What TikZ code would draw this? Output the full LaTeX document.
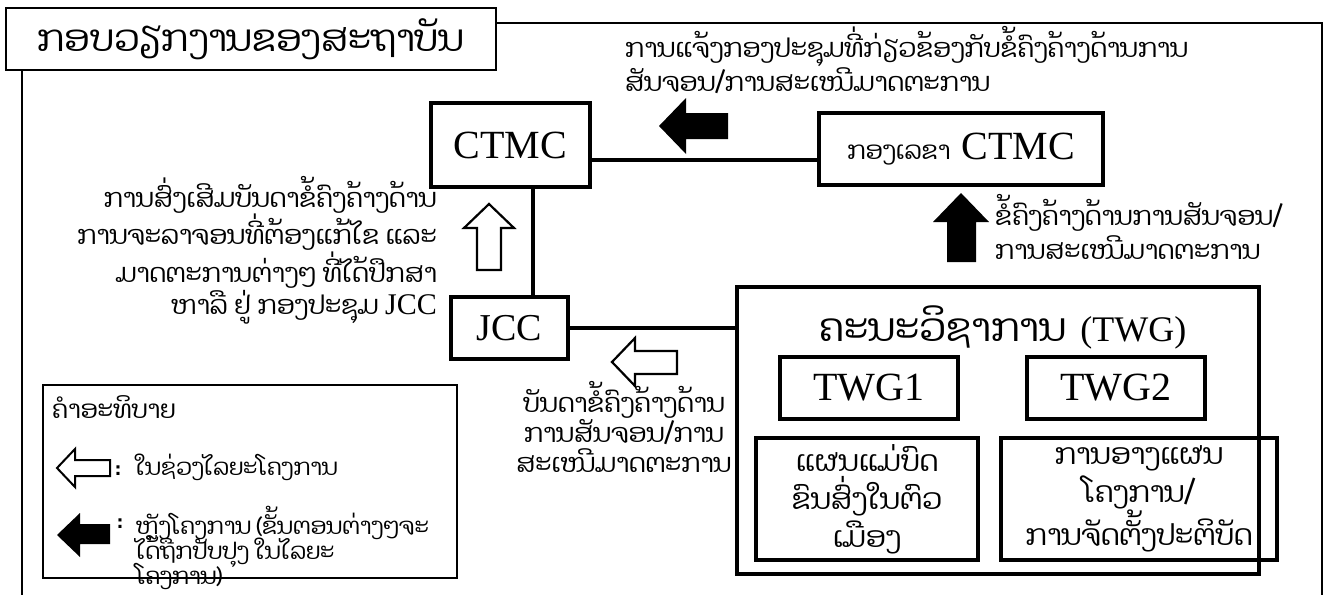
\documentclass[tikz,border=0pt]{standalone}
\usepackage{fontspec}
\setmainfont{Liberation Serif}
\newfontfamily\lao[Script=Lao]{Dhyana}
\newcommand{\fsz}[2]{\fontsize{#1}{#2}\selectfont}
\newcommand{\tightls}{\lineskiplimit=-100pt\relax}
\tikzset{
  box/.style={draw, line width=3.5pt, inner sep=0pt, outer sep=0pt, align=center},
  conn/.style={line width=3.5pt},
  hollowarrow/.style={draw, line width=2.2pt, fill=white, line join=miter},
  solidarrow/.style={fill=black},
  bodytext/.style={font=\lao\fsz{26}{30}, inner sep=0pt},
  legtext/.style={font=\lao\fsz{23}{25}\tightls, inner sep=0pt},
}
\begin{document}
\begin{tikzpicture}[x=1pt,y=-1pt]
\useasboundingbox (0,0) rectangle (1324,594);
% title and frame
\node[draw, line width=2.7pt, minimum width=490pt, minimum height=62pt, anchor=north west, inner sep=0pt, outer sep=0pt, font=\lao\fsz{37}{40}] (title) at (6,8) {ກອບວຽກງານຂອງສະຖາບັນ};
\coordinate (frtop) at (1322,23);
\draw[line width=2pt] (title.east |- frtop) -- (frtop) -- (1322,600);
\draw[line width=2pt] (title.south -| 22,0) -- (22,600);
% top note
\node[bodytext, anchor=west, align=left] (topnote) at (625,60) {ການແຈ້ງກອງປະຊຸມທີ່ກ່ຽວຂ້ອງກັບຂໍ້ຄົງຄ້າງດ້ານການ\\ສັນຈອນ/ການສະເໜີມາດຕະການ};
% boxes
\node[box, minimum width=159pt, minimum height=84pt, font=\fsz{40}{44}] (ctmc) at (510.5,145) {CTMC};
\node[box, minimum width=284pt, minimum height=72pt] (sec) at (961,149) {{\lao\fsz{25}{28}ກອງເລຂາ}\hspace{11pt}{\fsz{40}{44}CTMC}};
\node[box, minimum width=117pt, minimum height=62pt, font=\fsz{38}{42}] (jcc) at (509.5,328) {JCC};
\node[box, minimum width=522pt, minimum height=287pt] (twg) at (998,430.5) {};
\node[inner sep=0pt] (twglabel) at (1003,327) {{\lao\fsz{39}{42}ຄະນະວິຊາການ}\hspace{14pt}{\fsz{36}{38}(TWG)}};
\node[box, minimum width=178pt, minimum height=62pt, font=\fsz{40}{44}] (twg1) at (869,388) {TWG1};
\node[box, minimum width=178pt, minimum height=62pt, font=\fsz{40}{44}] (twg2) at (1116,388) {TWG2};
\node[box, minimum width=222pt, minimum height=122pt, font=\lao\fsz{29}{38}] (plan) at (867,499) {ແຜນແມ່ບົດ\\ຂົນສົ່ງໃນຕົວ\\ເມືອງ};
\node[box, minimum width=276pt, minimum height=122pt, font=\lao\fsz{29}{38}] (impl) at (1139,499) {ການອາງແຜນ\\ໂຄງການ/\\ການຈັດຕັ້ງປະຕິບັດ};
% connectors
\coordinate (cline) at (0,160);
\coordinate (vline) at (533,0);
\draw[conn] (ctmc.east |- cline) -- (sec.west |- cline);
\draw[conn] (ctmc.south -| vline) -- (jcc.north -| vline);
\draw[conn] (jcc.east) -- (jcc.east -| twg.west);
% texts
\node[bodytext, anchor=east, align=right, font=\lao\fsz{26}{32}] (lefttext) at (437,250) {ການສົ່ງເສີມບັນດາຂໍ້ຄົງຄ້າງດ້ານ\\ການຈະລາຈອນທີ່ຕ້ອງແກ້ໄຂ ແລະ\\ມາດຕະການຕ່າງໆ ທີ່ໄດ້ປຶກສາ\\ຫາລື ຢູ່ ກອງປະຊຸມ {\rmfamily\fsz{30}{32}JCC}};
\node[bodytext, align=center] (midtext) at (624,427) {ບັນດາຂໍ້ຄົງຄ້າງດ້ານ\\ການສັນຈອນ/ການ\\ສະເໜີມາດຕະການ};
\node[bodytext, anchor=west, align=left, font=\lao\fsz{26}{34}] (righttext) at (995,227) {ຂໍ້ຄົງຄ້າງດ້ານການສັນຈອນ/\\ການສະເໜີມາດຕະການ};
% arrows
\path[solidarrow] (659,126) -- (686,98) -- (686,113) -- (728,113) -- (728,139) -- (686,139) -- (686,154) -- cycle;
\path[hollowarrow] (489,204) -- (514,228) -- (501,228) -- (501,270) -- (477,270) -- (477,228) -- (464,228) -- cycle;
\path[hollowarrow] (612,362) -- (635,338) -- (635,351) -- (677,351) -- (677,374) -- (635,374) -- (635,386) -- cycle;
\path[solidarrow] (961,193) -- (989,222) -- (976,222) -- (976,262) -- (947,262) -- (947,222) -- (933,222) -- cycle;
% legend
\node[draw, line width=1.5pt, minimum width=414pt, minimum height=193pt, inner sep=0pt, outer sep=0pt] (legend) at (250,481.5) {};
\node[anchor=west, inner sep=0pt, font=\lao\fsz{25}{28}] (legtitle) at (52,407) {ຄຳອະທິບາຍ};
\path[hollowarrow, line width=2pt] (57,468) -- (75,449) -- (75,460) -- (110,460) -- (110,476) -- (75,476) -- (75,487) -- cycle;
\path[solidarrow] (57,535) -- (80,513) -- (80,524) -- (110,524) -- (110,544) -- (80,544) -- (80,557) -- cycle;
\node[legtext, anchor=west] (leg1) at (115,467) {:\hspace{14pt}ໃນຊ່ວງໄລຍະໂຄງການ};
\node[legtext, anchor=west] (colon2) at (117,524) {:};
\node[legtext, anchor=west, align=left] (leg2) at (136,548) {ຫຼັງໂຄງການ (ຂັ້ນຕອນຕ່າງໆຈະ\\ໄດ້ຖືກປັບປຸງ ໃນໄລຍະ\\ໂຄງການ)};
\end{tikzpicture}
\end{document}
